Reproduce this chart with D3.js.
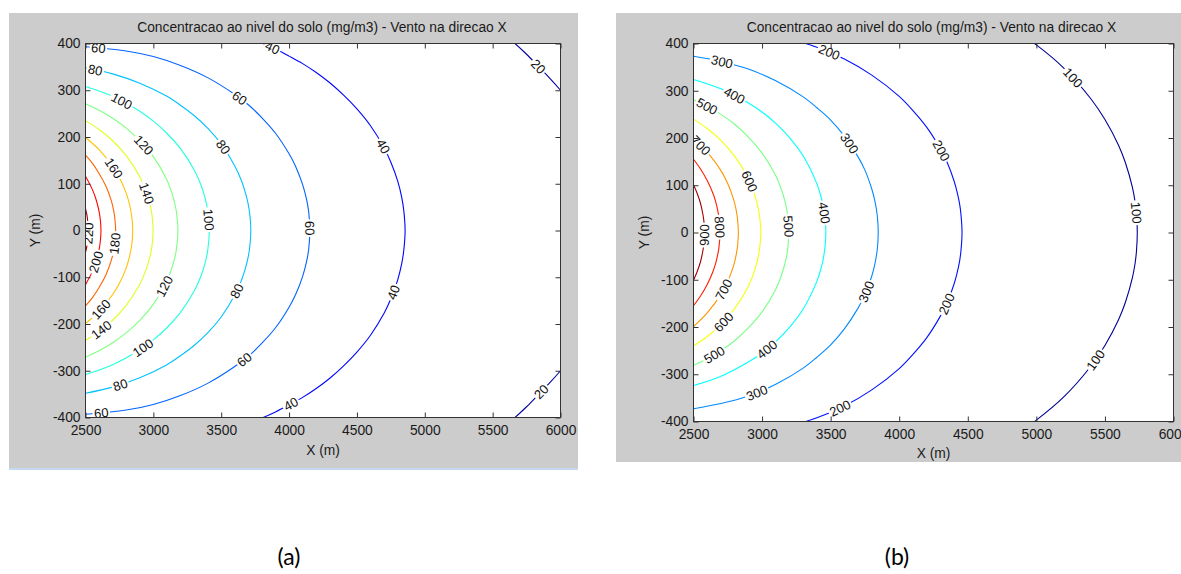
<!DOCTYPE html>
<html>
<head>
<meta charset="utf-8">
<script src="https://cdn.jsdelivr.net/npm/d3@7"></script>
<style>
  body { margin: 0; background: #fff; }
  svg { display: block; }
  text { font-family: "Liberation Sans", Arial, sans-serif; }
</style>
</head>
<body>
<script>
var xTicks = [2500, 3000, 3500, 4000, 4500, 5000, 5500, 6000];
var yTicks = [-400, -300, -200, -100, 0, 100, 200, 300, 400];
var titleText = 'Concentracao ao nivel do solo (mg/m3) - Vento na direcao X';

// panel (a): upper half of each contour as [x (m), y (m)], mirrored for y < 0
var a20 = [[5580, 421], [5661, 401], [5750, 377], [5840, 350], [5920, 326], [6000, 300], [6080, 271]];
var a40 = [[3700, 412], [3800, 401], [3900, 388], [4000, 373], [4100, 357], [4200, 338], [4300, 316], [4400, 290], [4500, 260], [4600, 224], [4700, 177], [4750, 146], [4800, 106], [4830, 71], [4845, 43], [4855, 0]];
var a60 = [[2500, 393], [2800, 384], [3000, 372], [3200, 353], [3400, 327], [3600, 291], [3700, 269], [3800, 241], [3900, 208], [4000, 164], [4050, 136], [4100, 98], [4130, 65], [4145, 39], [4153, 0]];
var a80 = [[2500, 348], [2700, 335], [2900, 315], [3100, 287], [3200, 268], [3300, 246], [3400, 219], [3500, 185], [3600, 138], [3650, 106], [3680, 79], [3700, 55], [3712, 31], [3718, 0]];
var a100 = [[2500, 308], [2700, 287], [2900, 255], [3000, 234], [3100, 208], [3200, 175], [3300, 130], [3350, 98], [3380, 71], [3400, 44], [3412, 0]];
var a120 = [[2500, 271], [2600, 257], [2700, 240], [2800, 219], [2900, 192], [3000, 158], [3100, 108], [3150, 67], [3170, 40], [3181, 0]];
var a140 = [[2500, 235], [2600, 216], [2700, 192], [2800, 160], [2900, 115], [2950, 81], [2975, 56], [2990, 33], [2998, 0]];
var a160 = [[2500, 199], [2600, 173], [2700, 137], [2750, 113], [2800, 80], [2825, 55], [2840, 32], [2848, 0]];
var a180 = [[2500, 161], [2550, 144], [2600, 122], [2650, 95], [2690, 64], [2710, 39], [2718, 21], [2722, 0]];
var a200 = [[2500, 116], [2550, 88], [2575, 69], [2600, 41], [2610, 21], [2614, 0]];
var a220 = [[2500, 47], [2510, 34], [2516, 21], [2519, 9], [2521, 0]];

var levelsA = [20, 40, 60, 80, 100, 120, 140, 160, 180, 200, 220];
var curvesA = [a20, a40, a60, a80, a100, a120, a140, a160, a180, a200, a220];

// inline labels: [level, x, y]
var labelsA = [
  [60, 2594, 387], [80, 2570, 339], [100, 2766, 275], [120, 2926, 182], [140, 2938, 79],
  [160, 2693, 129], [60, 3625, 278], [80, 3502, 175], [100, 3392, 22], [40, 3870, 385],
  [40, 4692, 179], [60, 4152, 5], [20, 5823, 347], [220, 2522, -5], [180, 2717, -27],
  [200, 2582, -67], [160, 2607, -166], [140, 2607, -209], [120, 3085, -120], [100, 2926, -251],
  [80, 3625, -130], [80, 2754, -330], [60, 3674, -276], [60, 2619, -390], [40, 4018, -372],
  [40, 4790, -134], [20, 5870, -347]
];

// panel (b)
var b100 = [[4800, 435], [4900, 417], [5000, 397], [5200, 348], [5400, 282], [5500, 239], [5600, 184], [5650, 147], [5700, 96], [5720, 65], [5730, 39], [5736, 0]];
var b200 = [[3200, 410], [3400, 392], [3600, 367], [3800, 333], [4000, 288], [4100, 258], [4200, 223], [4300, 177], [4350, 148], [4400, 109], [4420, 88], [4440, 61], [4450, 39], [4458, 0]];
var b300 = [[2500, 373], [2700, 362], [2900, 346], [3100, 321], [3300, 287], [3400, 264], [3500, 238], [3600, 204], [3700, 160], [3750, 132], [3800, 92], [3820, 70], [3840, 36], [3847, 0]];
var b400 = [[2500, 324], [2700, 304], [2900, 274], [3000, 255], [3100, 231], [3200, 201], [3300, 162], [3400, 103], [3430, 76], [3450, 50], [3465, 0]];
var b500 = [[2500, 281], [2600, 267], [2700, 250], [2800, 229], [2900, 202], [3000, 168], [3100, 120], [3150, 83], [3175, 56], [3185, 39], [3195, 0]];
var b600 = [[2500, 240], [2600, 220], [2700, 195], [2800, 161], [2900, 114], [2950, 76], [2975, 47], [2985, 27], [2991, 0]];
var b700 = [[2500, 199], [2600, 170], [2700, 131], [2750, 103], [2775, 85], [2800, 62], [2815, 41], [2822, 26], [2827, 0]];
var b800 = [[2500, 155], [2550, 135], [2600, 110], [2640, 84], [2660, 67], [2675, 49], [2685, 33], [2693, 0]];
var b900 = [[2500, 101], [2525, 84], [2550, 63], [2570, 36], [2576, 23], [2579, 0]];

var levelsB = [100, 200, 300, 400, 500, 600, 700, 800, 900];
var curvesB = [b100, b200, b300, b400, b500, b600, b700, b800, b900];

var labelsB = [
  [300, 2709, 361], [400, 2782, 283], [500, 2587, 262], [700, 2539, 181], [600, 2902, 107],
  [300, 3630, 188], [400, 3448, 41], [500, 3193, 12], [800, 2684, 12], [900, 2592, -5],
  [200, 3484, 375], [100, 5256, 326], [200, 4310, 174], [100, 5716, 41], [700, 2745, -125],
  [600, 2721, -191], [500, 2660, -262], [400, 3036, -248], [300, 2963, -343], [300, 3776, -128],
  [200, 3570, -374], [200, 4358, -153], [100, 5437, -272]
];

var W = 1181, H = 574;
var svg = d3.select('body').append('svg').attr('width', W).attr('height', H);
var defs = svg.append('defs');

// MATLAB jet colormap
var jet = d3.scaleLinear()
  .domain([0, 0.125, 0.375, 0.625, 0.875, 1])
  .range(['#00007f', '#0000ff', '#00ffff', '#ffff00', '#ff0000', '#7f0000']);

var panels = [
  {id: 'a', levels: levelsA, curves: curvesA, labels: labelsA, colorDomain: [12, 228],
   bg: [9, 13, 569, 455], left: 85.5, right: 560.5, top: 43.5, bottom: 417.5,
   titleX: 322, xLabelY: 450, yLabelX: 35, caption: '(a)', captionX: 289},
  {id: 'b', levels: levelsB, curves: curvesB, labels: labelsB, colorDomain: [80, 930],
   bg: [616, 13, 565, 449], left: 693.5, right: 1173.5, top: 43.5, bottom: 421.5,
   titleX: 931.5, xLabelY: 453.5, yLabelX: 644, caption: '(b)', captionX: 897}
];

// nearest point on the drawn contour, with its direction
function snap(paths, px, py) {
  var best = null;
  paths.forEach(function(p) {
    var len = p.getTotalLength();
    for (var s = 0; s <= len; s += 1) {
      var pt = p.getPointAtLength(s);
      var d = (pt.x - px) * (pt.x - px) + (pt.y - py) * (pt.y - py);
      if (!best || d < best.d) best = {d: d, s: s, p: p, len: len};
    }
  });
  var a = best.p.getPointAtLength(Math.max(0, best.s - 3));
  var b = best.p.getPointAtLength(Math.min(best.len, best.s + 3));
  var c = best.p.getPointAtLength(best.s);
  var ang = Math.atan2(b.y - a.y, b.x - a.x) * 180 / Math.PI;
  if (ang > 90) ang -= 180;
  if (ang <= -90) ang += 180;
  return {x: c.x, y: c.y, angle: ang};
}

panels.forEach(function(p) {
  var x = d3.scaleLinear().domain([2500, 6000]).range([p.left, p.right]);
  var y = d3.scaleLinear().domain([-400, 400]).range([p.bottom, p.top]);
  var t = d3.scaleLinear().domain(p.colorDomain).range([0, 1]);

  svg.append('rect')
    .attr('x', p.bg[0]).attr('y', p.bg[1])
    .attr('width', p.bg[2]).attr('height', p.bg[3])
    .attr('fill', '#cccccc');

  svg.append('rect')
    .attr('x', p.left).attr('y', p.top)
    .attr('width', p.right - p.left).attr('height', p.bottom - p.top)
    .attr('fill', '#fff');

  defs.append('clipPath').attr('id', 'clip' + p.id)
    .append('rect')
    .attr('x', p.left).attr('y', p.top)
    .attr('width', p.right - p.left).attr('height', p.bottom - p.top);

  var mask = defs.append('mask').attr('id', 'mask' + p.id)
    .attr('maskUnits', 'userSpaceOnUse')
    .attr('x', 0).attr('y', 0).attr('width', W).attr('height', H);
  mask.append('rect').attr('width', W).attr('height', H).attr('fill', '#fff');

  var plot = svg.append('g').attr('clip-path', 'url(#clip' + p.id + ')');
  var lines = plot.append('g').attr('mask', 'url(#mask' + p.id + ')');
  var labelG = plot.append('g');

  var line = d3.line()
    .x(function(d) { return x(d[0]); })
    .y(function(d) { return y(d[1]); })
    .curve(d3.curveCatmullRom.alpha(0.5));

  p.curves.forEach(function(pts, i) {
    var lev = p.levels[i];
    var lower = pts.map(function(d) { return [d[0], -d[1]]; });
    var segs;
    if (pts[pts.length - 1][1] === 0) {
      segs = [pts.concat(lower.slice(0, -1).reverse())];
    } else {
      segs = [pts, lower];
    }
    segs.forEach(function(s) {
      lines.append('path')
        .datum(s)
        .attr('class', 'lev' + lev)
        .attr('d', line)
        .attr('fill', 'none')
        .attr('stroke', jet(t(lev)))
        .attr('stroke-width', 1.1);
    });
  });

  p.labels.forEach(function(l) {
    var paths = lines.selectAll('path.lev' + l[0]).nodes();
    var s = snap(paths, x(l[1]), y(l[2]));
    var tr = 'translate(' + s.x + ',' + s.y + ') rotate(' + s.angle + ')';
    var txt = labelG.append('text')
      .attr('transform', tr)
      .attr('text-anchor', 'middle')
      .attr('dy', '0.36em')
      .attr('font-size', 13)
      .attr('fill', '#111')
      .text(l[0]);
    var w = txt.node().getComputedTextLength();
    mask.append('rect')
      .attr('x', -w / 2 - 1.5).attr('y', -5)
      .attr('width', w + 3).attr('height', 10)
      .attr('transform', tr)
      .attr('fill', '#000');
  });

  var fmt = function(d) { return String(d); };

  var gx = svg.append('g')
    .attr('transform', 'translate(0,' + p.bottom + ')')
    .call(d3.axisBottom(x).tickValues(xTicks).tickSize(-5).tickPadding(8).tickFormat(fmt));
  var gy = svg.append('g')
    .attr('transform', 'translate(' + p.left + ',0)')
    .call(d3.axisLeft(y).tickValues(yTicks).tickSize(-5).tickPadding(5).tickFormat(fmt));
  var gt = svg.append('g')
    .attr('transform', 'translate(0,' + p.top + ')')
    .call(d3.axisTop(x).tickValues(xTicks).tickSize(-5).tickFormat(''));
  var gr = svg.append('g')
    .attr('transform', 'translate(' + p.right + ',0)')
    .call(d3.axisRight(y).tickValues(yTicks).tickSize(-5).tickFormat(''));

  [gx, gy, gt, gr].forEach(function(g) {
    g.attr('font-size', 13.8).attr('font-family', '"Liberation Sans", Arial, sans-serif');
    g.select('.domain').remove();
    g.selectAll('line').attr('stroke', '#333');
    g.selectAll('text').attr('fill', '#1a1a1a');
  });

  svg.append('rect')
    .attr('x', p.left).attr('y', p.top)
    .attr('width', p.right - p.left).attr('height', p.bottom - p.top)
    .attr('fill', 'none')
    .attr('stroke', '#333')
    .attr('stroke-width', 1);

  svg.append('text')
    .attr('x', p.titleX).attr('y', 31.5)
    .attr('text-anchor', 'middle')
    .attr('font-size', 13.8)
    .attr('fill', '#1a1a1a')
    .text(titleText);

  svg.append('text')
    .attr('x', (p.left + p.right) / 2).attr('y', p.xLabelY)
    .attr('dy', '0.35em')
    .attr('text-anchor', 'middle')
    .attr('font-size', 13.8)
    .attr('fill', '#1a1a1a')
    .text('X (m)');

  svg.append('text')
    .attr('transform', 'translate(' + p.yLabelX + ',' + ((p.top + p.bottom) / 2) + ') rotate(-90)')
    .attr('dy', '0.35em')
    .attr('text-anchor', 'middle')
    .attr('font-size', 13.8)
    .attr('fill', '#1a1a1a')
    .text('Y (m)');

  svg.append('text')
    .attr('x', p.captionX).attr('y', 565)
    .attr('text-anchor', 'middle')
    .attr('font-size', 23)
    .style('font-family', 'Lato, "Open Sans", sans-serif')
    .attr('fill', '#000')
    .text(p.caption);
});

// thin light-blue edge under panel (a)
svg.append('line')
  .attr('x1', 9).attr('x2', 578)
  .attr('y1', 469).attr('y2', 469)
  .attr('stroke', '#c5d9f1')
  .attr('stroke-width', 2);
</script>
</body>
</html>
